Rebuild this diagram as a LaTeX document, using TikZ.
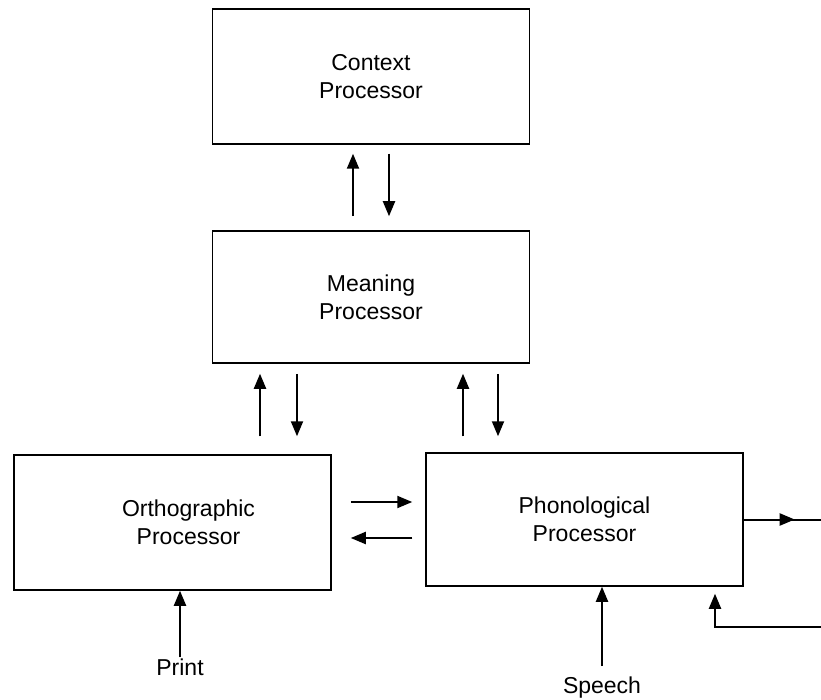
\documentclass[tikz,border=0pt]{standalone}
\usepackage{fontspec}
\setmainfont{Liberation Sans}
\usetikzlibrary{arrows.meta,decorations.markings}
\begin{document}
\begin{tikzpicture}[x=1pt,y=1pt,
  box/.style={draw, line width=1.5pt, minimum width=317pt, align=center,
    font=\fontsize{23}{28}\selectfont},
  lbl/.style={font=\fontsize{23}{28}\selectfont, inner sep=1pt},
  arr/.style={line width=2pt, -{Triangle[length=15pt,width=12pt]}},
  ln/.style={line width=2pt},
  midarr/.style={postaction={decorate}, decoration={markings,
    mark=at position 0.66 with {\arrow{Triangle[length=15pt,width=12pt]}}}}
]
\useasboundingbox (0,0) rectangle (821,-700);
\node[box, minimum height=135pt] (Context) at (371,-76.5) {Context\\Processor};
\node[box, minimum height=132pt] (Meaning) at (371,-297) {Meaning\\Processor};
\node[box, minimum height=135pt,
  label={[lbl, align=center, xshift=16pt]center:Orthographic\\Processor}] (Ortho) at (172.5,-522.5) {};
\node[box, minimum height=133pt] (Phono) at (584.5,-519.5) {Phonological\\Processor};
\node[lbl] (Print) at (180,-667) {Print};
\node[lbl] (Speech) at (602,-688) {Speech};
\coordinate (out) at (821,-519.5);
\coordinate (fb) at (821,-627);
% Context <-> Meaning
\coordinate (cm1) at ([xshift=-18pt]Meaning.north);
\coordinate (cm2) at ([xshift=18pt]Meaning.north);
\draw[arr, shorten <=14pt, shorten >=9pt] (cm1) -- (cm1 |- Context.south);
\draw[arr, shorten <=9pt, shorten >=14pt] (cm2 |- Context.south) -- (cm2);
% Meaning <-> Ortho
\coordinate (mo1) at ([xshift=-111pt]Meaning.south);
\coordinate (mo2) at ([xshift=-74pt]Meaning.south);
\draw[arr, shorten <=18pt, shorten >=10pt] (mo1 |- Ortho.north) -- (mo1);
\draw[arr, shorten <=10pt, shorten >=18pt] (mo2) -- (mo2 |- Ortho.north);
% Meaning <-> Phono
\coordinate (mp1) at ([xshift=92pt]Meaning.south);
\coordinate (mp2) at ([xshift=127pt]Meaning.south);
\draw[arr, shorten <=16pt, shorten >=10pt] (mp1 |- Phono.north) -- (mp1);
\draw[arr, shorten <=10pt, shorten >=16pt] (mp2) -- (mp2 |- Phono.north);
% Ortho <-> Phono
\coordinate (op1) at ([yshift=20.5pt]Ortho.east);
\coordinate (op2) at ([yshift=-15.5pt]Ortho.east);
\draw[arr, shorten <=19pt, shorten >=13pt] (op1) -- (op1 -| Phono.west);
\draw[arr, shorten <=13pt, shorten >=19pt] (op2 -| Phono.west) -- (op2);
% output and feedback
\draw[ln, midarr] (Phono.east) -- (out);
\coordinate (fbx) at ([xshift=130.5pt]Phono.south);
\draw[arr, shorten >=7pt] (fb) -| (fbx);
% inputs
\draw[arr] (Print.north) -- (Print.north |- Ortho.south);
\draw[arr, shorten <=10pt] (Speech.north) -- (Speech.north |- Phono.south);
\end{tikzpicture}
\end{document}
